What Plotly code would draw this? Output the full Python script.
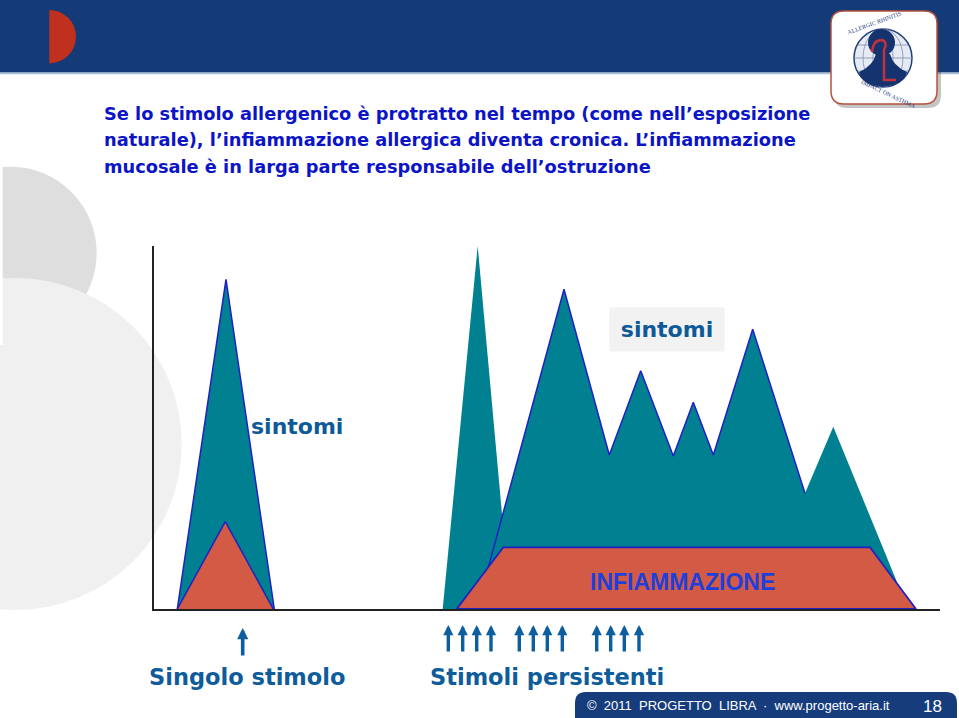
import plotly.graph_objects as go

W, H = 959, 718

# ---------------- data (time units / intensity units) ----------------
single_sym_t = [23.3, 72.0, 120.3]
single_sym_v = [0, 329.7, 0]
single_inf_t = [23.3, 71.3, 119.3]
single_inf_v = [0, 87.3, 0]

spike_t = [288.7, 323.7, 356.6]
spike_v = [0, 363, 0]

chronic_sym_t = [323, 410, 455.3, 486.7, 519.3, 539.3, 559.3, 598.7, 651, 679.3, 754]
chronic_sym_v = [0, 319.7, 154, 238.3, 153, 206.7, 154, 279.7, 115.7, 182.3, 0]

chronic_inf_t = [302.7, 349.3, 716, 762, 302.7]
chronic_inf_v = [0, 61.7, 61.7, 0, 0]

single_stim_t = [88.7]
persistent_stim_t = [294.3, 308.7, 322.7, 337, 365.3, 379.3, 393.3, 408.3,
                     442.7, 456.7, 470.3, 485]

title_lines = [
    "Se lo stimolo allergenico è protratto nel tempo (come nell’esposizione",
    "naturale), l’infiammazione allergica diventa cronica. L’infiammazione",
    "mucosale è in larga parte responsabile dell’ostruzione",
]
label_symptoms = "sintomi"
label_inflammation = "INFIAMMAZIONE"
label_single = "Singolo stimolo"
label_persistent = "Stimoli persistenti"
footer_text = "©  2011  PROGETTO  LIBRA  ·  www.progetto-aria.it"
page_number = "18"

# ---------------- styles ----------------
TEAL = "#008090"
RED = "#D35A45"
OUTLINE = "#2020C4"
NAVY = "#153A78"
TEXT_BLUE = "#0E5A98"
TITLE_BLUE = "#0B14C6"
FONT = "DejaVu Sans, Liberation Sans, Arial, sans-serif"
ARIAL = "Liberation Sans, Arial, sans-serif"


def PX(x):
    return x / W


def PY(y):
    return 1 - y / H


def path_from(cmds):
    out = []
    for c in cmds:
        if isinstance(c, str):
            out.append(c)
        else:
            out.append(f"{PX(c[0]):.5f},{PY(c[1]):.5f}")
    return " ".join(out)


def rrect_path(x0, y0, x1, y1, r):
    return path_from([
        "M", (x0 + r, y0), "L", (x1 - r, y0), "Q", (x1, y0), (x1, y0 + r),
        "L", (x1, y1 - r), "Q", (x1, y1), (x1 - r, y1),
        "L", (x0 + r, y1), "Q", (x0, y1), (x0, y1 - r),
        "L", (x0, y0 + r), "Q", (x0, y0), (x0 + r, y0), "Z"])


fig = go.Figure()

# spike (acute reaction at beginning of persistent exposure)
fig.add_trace(go.Scatter(x=spike_t, y=spike_v, mode="lines", fill="toself",
                         fillcolor=TEAL, line=dict(width=0), hoverinfo="skip"))
# chronic symptoms
fig.add_trace(go.Scatter(x=chronic_sym_t, y=chronic_sym_v, mode="lines", fill="toself",
                         fillcolor=TEAL, line=dict(width=0), hoverinfo="skip"))
fig.add_trace(go.Scatter(x=chronic_sym_t[:9], y=chronic_sym_v[:9], mode="lines",
                         line=dict(color=OUTLINE, width=1.5), hoverinfo="skip"))
# chronic inflammation
fig.add_trace(go.Scatter(x=chronic_inf_t, y=chronic_inf_v, mode="lines", fill="toself",
                         fillcolor=RED, line=dict(color=OUTLINE, width=1.8), hoverinfo="skip"))
# single stimulus
fig.add_trace(go.Scatter(x=single_sym_t, y=single_sym_v, mode="lines", fill="toself",
                         fillcolor=TEAL, line=dict(color=OUTLINE, width=1.5), hoverinfo="skip"))
fig.add_trace(go.Scatter(x=single_inf_t, y=single_inf_v, mode="lines", fill="toself",
                         fillcolor=RED, line=dict(color=OUTLINE, width=1.5), hoverinfo="skip"))

shapes = []
# background decorative circles
shapes.append(dict(type="circle", xref="paper", yref="paper", layer="below",
                   x0=PX(-75.9), x1=PX(96.7), y0=PY(339.3), y1=PY(166.7),
                   fillcolor="#DEDEDE", line=dict(width=0)))
shapes.append(dict(type="circle", xref="paper", yref="paper", layer="below",
                   x0=PX(-150.3), x1=PX(181.7), y0=PY(610), y1=PY(278),
                   fillcolor="#F0F0F0", line=dict(width=0)))
shapes.append(dict(type="rect", xref="paper", yref="paper", layer="below",
                   x0=0, x1=PX(2.7), y0=PY(345), y1=PY(160),
                   fillcolor="white", line=dict(width=0)))
# banner
shapes.append(dict(type="rect", xref="paper", yref="paper", layer="below",
                   x0=0, x1=1, y0=PY(72.5), y1=1, fillcolor=NAVY, line=dict(width=0)))
shapes.append(dict(type="line", xref="paper", yref="paper", layer="below",
                   x0=0, x1=1, y0=PY(73.5), y1=PY(73.5), line=dict(color="#A9C0DA", width=1.5)))
# red half disc
shapes.append(dict(type="circle", xref="paper", yref="paper", layer="below",
                   x0=PX(49.3 - 26.7), x1=PX(49.3 + 26.7), y0=PY(63.4), y1=PY(10),
                   fillcolor="#C0301E", line=dict(width=0)))
shapes.append(dict(type="rect", xref="paper", yref="paper", layer="below",
                   x0=PX(20), x1=PX(49.3), y0=PY(66), y1=PY(6),
                   fillcolor=NAVY, line=dict(width=0)))
# logo
shapes.append(dict(type="path", xref="paper", yref="paper", layer="above",
                   path=rrect_path(834, 15, 941, 108, 13),
                   fillcolor="rgba(60,60,60,0.30)", line=dict(width=0)))
shapes.append(dict(type="path", xref="paper", yref="paper", layer="above",
                   path=rrect_path(831, 11, 937, 104, 13),
                   fillcolor="white", line=dict(color="#B5533F", width=1.5)))
shapes.append(dict(type="circle", xref="paper", yref="paper", layer="above",
                   x0=PX(854), x1=PX(912), y0=PY(87), y1=PY(29),
                   fillcolor="#E6EAF2", line=dict(color="#1F3F7D", width=1.5)))
for rx in (10, 20):
    shapes.append(dict(type="circle", xref="paper", yref="paper", layer="above",
                       x0=PX(883 - rx), x1=PX(883 + rx), y0=PY(87), y1=PY(29),
                       line=dict(color="#7F8FB3", width=0.8)))
for yy, half in ((45, 25), (58, 29), (71, 25)):
    shapes.append(dict(type="line", xref="paper", yref="paper", layer="above",
                       x0=PX(883 - half), x1=PX(883 + half), y0=PY(yy), y1=PY(yy),
                       line=dict(color="#7F8FB3", width=0.8)))
shapes.append(dict(type="circle", xref="paper", yref="paper", layer="above",
                   x0=PX(868), x1=PX(895), y0=PY(56), y1=PY(29),
                   fillcolor="#15336E", line=dict(width=0)))
shapes.append(dict(type="path", xref="paper", yref="paper", layer="above",
                   path=path_from(["M", (876, 54), "L", (890, 54), "Q", (893, 66), (907, 72),
                                   "Q", (905, 84), (883, 87), "Q", (861, 84), (859, 72),
                                   "Q", (873, 66), (876, 54), "Z"]),
                   fillcolor="#15336E", line=dict(width=0)))
shapes.append(dict(type="path", xref="paper", yref="paper", layer="above",
                   path=path_from(["M", (872, 52), "Q", (873, 40), (882, 40),
                                   "Q", (888, 42), (884, 50), "L", (884, 80),
                                   "L", (896, 80)]),
                   line=dict(color="#C4303C", width=2.5)))
# footer tab
shapes.append(dict(type="path", xref="paper", yref="paper", layer="above",
                   path=rrect_path(575, 692, 957, 735, 11),
                   fillcolor="#163C7C", line=dict(width=0)))

annotations = []


def ptext(x, y, text, font, xanchor="center", **kw):
    annotations.append(dict(xref="paper", yref="paper", x=PX(x), y=PY(y),
                            xanchor=xanchor, yanchor="middle", showarrow=False,
                            text=text, font=font, **kw))


# title
for line, yc in zip(title_lines, (113.5, 140, 166)):
    ptext(102, yc, f"<b>{line}</b>", dict(family=FONT, size=17.8, color=TITLE_BLUE),
          xanchor="left")
# chart labels
annotations.append(dict(xref="x", yref="y", x=142.7, y=182.3, showarrow=False,
                        xanchor="center", yanchor="middle",
                        text=f"<b>{label_symptoms}</b>",
                        font=dict(family=FONT, size=22, color=TEXT_BLUE)))
annotations.append(dict(xref="x", yref="y", x=513, y=279.5, showarrow=False,
                        xanchor="center", yanchor="middle",
                        text=f"<b>{label_symptoms}</b>", width=112, height=41,
                        bgcolor="#F2F2F2",
                        font=dict(family=FONT, size=22, color=TEXT_BLUE)))
annotations.append(dict(xref="x", yref="y", x=528.3, y=27.3, showarrow=False,
                        xanchor="center", yanchor="middle",
                        text=f"<b>{label_inflammation}</b>",
                        font=dict(family=ARIAL, size=23, color="#1E3FDC")))
# stimulus arrows
for t in single_stim_t:
    annotations.append(dict(xref="x", yref="paper", x=t, y=PY(628), ax=0, ay=29,
                            text="", showarrow=True, arrowhead=2, arrowsize=0.62,
                            arrowwidth=3.6, arrowcolor="#0D5E9E"))
for t in persistent_stim_t:
    annotations.append(dict(xref="x", yref="paper", x=t, y=PY(625), ax=0, ay=28,
                            text="", showarrow=True, arrowhead=2, arrowsize=0.6,
                            arrowwidth=3.4, arrowcolor="#0D5E9E"))
ptext(246.7, 677, f"<b>{label_single}</b>", dict(family=FONT, size=22.5, color="#0E5C9A"))
ptext(546.5, 677, f"<b>{label_persistent}</b>", dict(family=FONT, size=22.5, color="#0E5C9A"))
# footer text
ptext(585, 705.5, footer_text, dict(family=ARIAL, size=13, color="white"), xanchor="left")
ptext(932, 706.5, page_number, dict(family=ARIAL, size=17, color="white"))
# logo text
ptext(874, 23, "ALLERGIC RHINITIS", dict(family="Liberation Serif, serif", size=6,
                                          color="#1F3F7D"), textangle=-20)
ptext(888, 94, "IMPACT ON ASTHMA", dict(family="Liberation Serif, serif", size=6,
                                         color="#1F3F7D"), textangle=25)

fig.update_layout(
    width=W, height=H,
    margin=dict(l=0, r=0, t=0, b=0, pad=0),
    paper_bgcolor="white", plot_bgcolor="rgba(0,0,0,0)",
    showlegend=False,
    shapes=shapes, annotations=annotations,
    xaxis=dict(domain=[PX(154), PX(940)], range=[0, 786], showline=True,
               linecolor="#222222", linewidth=2, showgrid=False, zeroline=False,
               showticklabels=False, ticks="", fixedrange=True),
    yaxis=dict(domain=[PY(609), PY(246)], range=[0, 363], showline=True,
               linecolor="#222222", linewidth=1.5, showgrid=False, zeroline=False,
               showticklabels=False, ticks="", fixedrange=True),
)

fig.write_html("out.html", config={"displayModeBar": False},
               post_script="document.body.style.margin='0';document.body.style.overflow='hidden';")
